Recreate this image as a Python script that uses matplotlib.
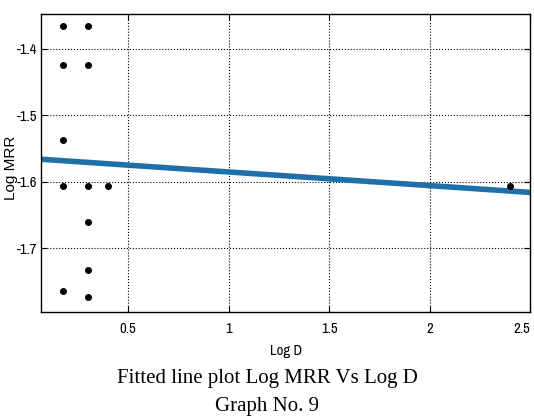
import matplotlib
matplotlib.use('Agg')
from matplotlib import pyplot as plt

# data
log_d = [0.176, 0.176, 0.176, 0.176, 0.176,
         0.301, 0.301, 0.301, 0.301, 0.301, 0.301,
         0.398, 2.398]
log_mrr = [-1.366, -1.424, -1.537, -1.606, -1.765,
           -1.366, -1.424, -1.606, -1.660, -1.733, -1.774,
           -1.606, -1.606]
fit_x = [0.067, 2.5]
fit_y = [-1.566, -1.616]

xticks = [0.5, 1, 1.5, 2, 2.5]
xlabels = ['0.5', '1', '1.5', '2', '2.5']
yticks = [-1.4, -1.5, -1.6, -1.7]
ylabels = ['-1.4', '-1.5', '-1.6', '-1.7']

narrow = ['Archivo Narrow', 'Roboto Condensed', 'DejaVu Sans']

fig = plt.figure(figsize=(5.34, 4.17), dpi=100, facecolor='w')
ax = fig.add_axes([0.077, 0.251, 0.916, 0.716])

ax.plot(fit_x, fit_y, color='#1f6fa8', linewidth=4, solid_capstyle='butt', zorder=2)
ax.plot(log_d, log_mrr, 'o', color='black', markersize=4, zorder=3)

ax.set_xlim(0.067, 2.5)
ax.set_ylim(-1.7965, -1.347)
ax.set_xticks(xticks)
ax.set_xticklabels(xlabels, family=narrow, fontsize=10.5)
ax.get_xticklabels()[-1].set_horizontalalignment('right')
ax.set_yticks(yticks)
ax.set_yticklabels(ylabels, family=narrow, fontsize=10.5)
ax.tick_params(direction='in', top=True, right=True, length=4, width=0.8)
ax.tick_params(axis='x', pad=7)
ax.tick_params(axis='y', pad=3)
ax.grid(True, linestyle=':', color='black', linewidth=0.8)
for s in ax.spines.values():
    s.set_linewidth(1)

ax.set_xlabel('Log D', family=narrow, fontsize=10.5, labelpad=6)
ax.set_ylabel('Log MRR', family=['Liberation Sans', 'DejaVu Sans'], fontsize=11)
ax.yaxis.set_label_coords(-0.047, 0.485)

fig.text(0.5, 0.093, 'Fitted line plot Log MRR Vs Log D', ha='center', va='center',
         family='Liberation Serif', fontsize=15)
fig.text(0.5, 0.024, 'Graph No. 9', ha='center', va='center',
         family='Liberation Serif', fontsize=15)

fig.savefig('out.png', dpi=100)
